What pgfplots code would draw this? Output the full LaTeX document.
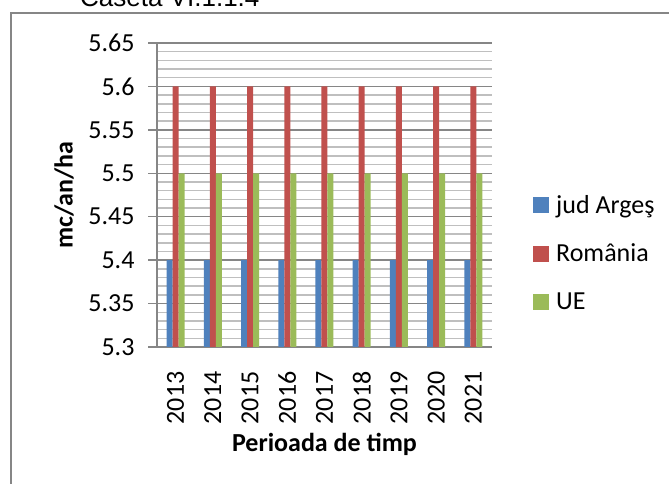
\documentclass[border=0pt]{standalone}
\usepackage{fontspec}
\setmainfont{Carlito}
\newfontfamily\arialfont{Liberation Sans}
\usepackage{pgfplots}
\pgfplotsset{compat=1.18}
\definecolor{gridmaj}{RGB}{134,134,134}
\definecolor{gridmin}{RGB}{191,191,191}
\definecolor{xlblue}{RGB}{79,129,189}
\definecolor{xlred}{RGB}{192,80,77}
\definecolor{xlgreen}{RGB}{155,187,89}

% values per year, plotted at 1..9
\pgfplotstableread{
x arges romania ue
1 5.4 5.6 5.5
2 5.4 5.6 5.5
3 5.4 5.6 5.5
4 5.4 5.6 5.5
5 5.4 5.6 5.5
6 5.4 5.6 5.5
7 5.4 5.6 5.5
8 5.4 5.6 5.5
9 5.4 5.6 5.5
}\loaddata

\begin{document}
\begin{tikzpicture}[x=1pt,y=1pt]
\draw[gridmaj, line width=1.5pt] (11,-20) -- (11,471) -- (700,471);
\node[anchor=base west, inner sep=0pt, font=\arialfont\fontsize{26}{30}\selectfont] at (80,477) {Caseta VI.1.1.4};
\begin{axis}[
  at={(157pt,137pt)}, anchor=south west,
  width=335pt, height=304pt, scale only axis,
  ybar, ybar=0pt, bar width=6pt,
  xmin=0.5, xmax=9.5, ymin=5.3, ymax=5.65,
  xtick={1,...,9},
  xticklabels={2013,2014,2015,2016,2017,2018,2019,2020,2021},
  ytick={5.3,5.35,5.4,5.45,5.5,5.55,5.6,5.65},
  yticklabels={5.3,5.35,5.4,5.45,5.5,5.55,5.6,5.65},
  minor y tick num=4,
  ymajorgrids, yminorgrids,
  major grid style={gridmaj, line width=1.5pt},
  minor grid style={gridmin, line width=1.5pt},
  axis x line*=bottom, axis y line*=left,
  axis line style={gridmaj, line width=1.5pt, -},
  tick align=outside,
  major tick length=9pt, minor tick length=0pt,
  xtick style={draw=none},
  ytick style={gridmaj, line width=1.5pt},
  tick label style={font=\fontsize{26}{30}\selectfont},
  yticklabel style={anchor=east},
  yticklabel shift=10pt,
  xticklabel style={rotate=90, anchor=east},
  xticklabel shift=12pt,
  label style={font=\bfseries\fontsize{26}{30}\selectfont},
  ylabel={mc/an/ha},
  ylabel style={at={(axis description cs:-0.2776,0.5)}, anchor=center},
  xlabel={Perioada de timp},
  xlabel style={at={(axis description cs:0.5,0)}, anchor=center, yshift=-97pt},
  legend style={draw=none, fill=none, at={(1,0.309)}, anchor=west, xshift=38pt,
    font=\fontsize{26}{30}\selectfont, row sep=25pt, legend cell align=left},
  legend image code/.code={\fill[#1] (0pt,-8pt) rectangle (16pt,8pt);
    \path (21pt,0pt);},
]
\addplot[fill=xlblue, draw=none] table[x=x, y=arges] {\loaddata};
\addplot[fill=xlred, draw=none] table[x=x, y=romania] {\loaddata};
\addplot[fill=xlgreen, draw=none] table[x=x, y=ue] {\loaddata};
\legend{jud Argeş, România, UE}
\end{axis}
\pgfresetboundingbox
\path[use as bounding box] (0,0) rectangle (669,484);
\end{tikzpicture}
\end{document}
